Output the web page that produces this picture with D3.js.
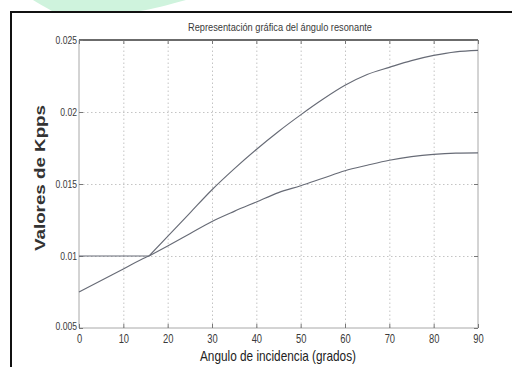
<!DOCTYPE html>
<html>
<head>
<meta charset="utf-8">
<script src="https://cdn.jsdelivr.net/npm/d3@7"></script>
<style>
  html, body { margin: 0; padding: 0; background: #fff; overflow: hidden; }
  svg { display: block; }
  text { font-family: Arial, "Liberation Sans", sans-serif; }
</style>
</head>
<body>
<svg id="chart" width="512" height="367"></svg>
<script>
// Incidence angle (degrees) and the two Kpps curves
const angles = [0, 5, 10, 15, 15.8, 20, 25, 30, 35, 40, 45, 50, 55, 60, 65, 70, 75, 80, 85, 90];
const kppsUpper = [0.01, 0.01, 0.01, 0.01, 0.01, 0.01136, 0.01298, 0.0146, 0.01605, 0.0174, 0.01865, 0.0198, 0.02088, 0.02185, 0.0226, 0.0231, 0.02357, 0.02393, 0.02418, 0.02428];
const kppsLower = [0.0075, 0.0083, 0.0091, 0.0099, 0.01, 0.0107, 0.01155, 0.0124, 0.0131, 0.01375, 0.0144, 0.01488, 0.0154, 0.01592, 0.0163, 0.01665, 0.0169, 0.01706, 0.01714, 0.01716];
const crossAngle = 15.8;
const xTicks = [0, 10, 20, 30, 40, 50, 60, 70, 80, 90];
const yTicks = [0.005, 0.01, 0.015, 0.02, 0.025];
const yTickLabels = ["0.005", "0.01", "0.015", "0.02", "0.025"];

const titleText = "Representación gráfica del ángulo resonante";
const xTitle = "Angulo de incidencia (grados)";
const yTitle = "Valores de Kpps";

const svg = d3.select("#chart");

// decorative mint swoosh along the top edge
svg.append("path")
  .attr("d", "M33,0 L186,0 C168,5 152,9 140,11 L52,11 C45,7 38,3 33,0 Z")
  .attr("fill", "#cff3dd");

// outer figure frame (runs off the right and bottom edges)
svg.append("rect")
  .attr("x", 11).attr("y", 12).attr("width", 520).attr("height", 380)
  .attr("fill", "none").attr("stroke", "#111").attr("stroke-width", 2);

const plotL = 79, plotR = 478, plotT = 40, plotB = 328;
const x = d3.scaleLinear().domain([0, 90]).range([plotL, plotR]);
const y = d3.scaleLinear().domain([0.005, 0.025]).range([plotB, plotT]);

// squeeze a text node horizontally so it reads like a narrow font
function narrow(sel, f) {
  sel.each(function () {
    const w = this.getComputedTextLength();
    d3.select(this).attr("textLength", w * f).attr("lengthAdjust", "spacingAndGlyphs");
  });
}

// dotted grid
const grid = svg.append("g");
grid.append("g").attr("transform", `translate(0,${plotB})`)
  .call(d3.axisBottom(x).tickValues(xTicks.slice(1, -1)).tickSize(-(plotB - plotT)).tickFormat(""))
  .call(g => g.select(".domain").remove())
  .selectAll("line").attr("stroke", "#c4c4c4").attr("stroke-dasharray", "1.5,2.5");
grid.append("g").attr("transform", `translate(${plotL},0)`)
  .call(d3.axisLeft(y).tickValues(yTicks.slice(1, -1)).tickSize(-(plotR - plotL)).tickFormat(""))
  .call(g => g.select(".domain").remove())
  .selectAll("line").attr("stroke", "#c4c4c4").attr("stroke-dasharray", "1.5,2.5");

// axes box
svg.append("line").attr("x1", plotL).attr("x2", plotL).attr("y1", plotT).attr("y2", plotB).attr("stroke", "#a8a8a8");
svg.append("line").attr("x1", plotR).attr("x2", plotR).attr("y1", plotT).attr("y2", plotB).attr("stroke", "#a8a8a8");
svg.append("line").attr("x1", plotL).attr("x2", plotR).attr("y1", plotB).attr("y2", plotB).attr("stroke", "#a8a8a8");
svg.append("line").attr("x1", plotL).attr("x2", plotR).attr("y1", plotT).attr("y2", plotT).attr("stroke", "#3a3a3a").attr("stroke-width", 1.4);

// tick marks and labels
const xAxis = svg.append("g").attr("transform", `translate(0,${plotB})`)
  .call(d3.axisBottom(x).tickValues(xTicks).tickSize(-4).tickPadding(6).tickFormat(d3.format("d")));
xAxis.select(".domain").remove();
xAxis.selectAll("line").attr("stroke", "#777");
xAxis.selectAll("text").attr("font-size", 12).attr("fill", "#3a3a3a").call(narrow, 0.78);

const xAxisTop = svg.append("g").attr("transform", `translate(0,${plotT})`)
  .call(d3.axisTop(x).tickValues(xTicks).tickSize(-4).tickFormat(""));
xAxisTop.select(".domain").remove();
xAxisTop.selectAll("line").attr("stroke", "#777");

const yAxis = svg.append("g").attr("transform", `translate(${plotL},0)`)
  .call(d3.axisLeft(y).tickValues(yTicks).tickSize(-4).tickPadding(2).tickFormat((d, i) => yTickLabels[i]));
yAxis.select(".domain").remove();
yAxis.selectAll("line").attr("stroke", "#777");
yAxis.selectAll("text").attr("font-size", 11).attr("fill", "#3a3a3a").call(narrow, 0.78);
// lowest label sits just above the x tick labels
yAxis.selectAll(".tick").filter(d => d === yTicks[0]).select("text").attr("dy", "0.1em");

const yAxisRight = svg.append("g").attr("transform", `translate(${plotR},0)`)
  .call(d3.axisRight(y).tickValues(yTicks).tickSize(-4).tickFormat(""));
yAxisRight.select(".domain").remove();
yAxisRight.selectAll("line").attr("stroke", "#777");

// curves: each drawn in two pieces that meet where they cross, so the corner stays sharp
const line = d3.line().x(d => x(d[0])).y(d => y(d[1])).curve(d3.curveMonotoneX);
[kppsLower, kppsUpper].forEach(vals => {
  const pts = angles.map((a, i) => [a, vals[i]]);
  const pieces = [pts.filter(p => p[0] <= crossAngle), pts.filter(p => p[0] >= crossAngle)];
  pieces.forEach(piece => {
    svg.append("path")
      .datum(piece)
      .attr("d", line)
      .attr("fill", "none")
      .attr("stroke", "#676b76")
      .attr("stroke-width", 1.15)
      .attr("stroke-linejoin", "round");
  });
});

// titles
svg.append("text").attr("x", 280).attr("y", 31).attr("text-anchor", "middle")
  .attr("font-size", 11).attr("fill", "#3a3a3a").text(titleText)
  .attr("textLength", 184).attr("lengthAdjust", "spacingAndGlyphs");

svg.append("text").attr("x", 278).attr("y", 361).attr("text-anchor", "middle")
  .attr("font-size", 15).attr("fill", "#222").text(xTitle)
  .attr("textLength", 156).attr("lengthAdjust", "spacingAndGlyphs");

svg.append("text").attr("transform", "translate(45,178) rotate(-90)").attr("text-anchor", "middle")
  .attr("font-size", 15).attr("font-weight", "bold").attr("fill", "#333").text(yTitle)
  .attr("textLength", 146).attr("lengthAdjust", "spacingAndGlyphs");
</script>
</body>
</html>
